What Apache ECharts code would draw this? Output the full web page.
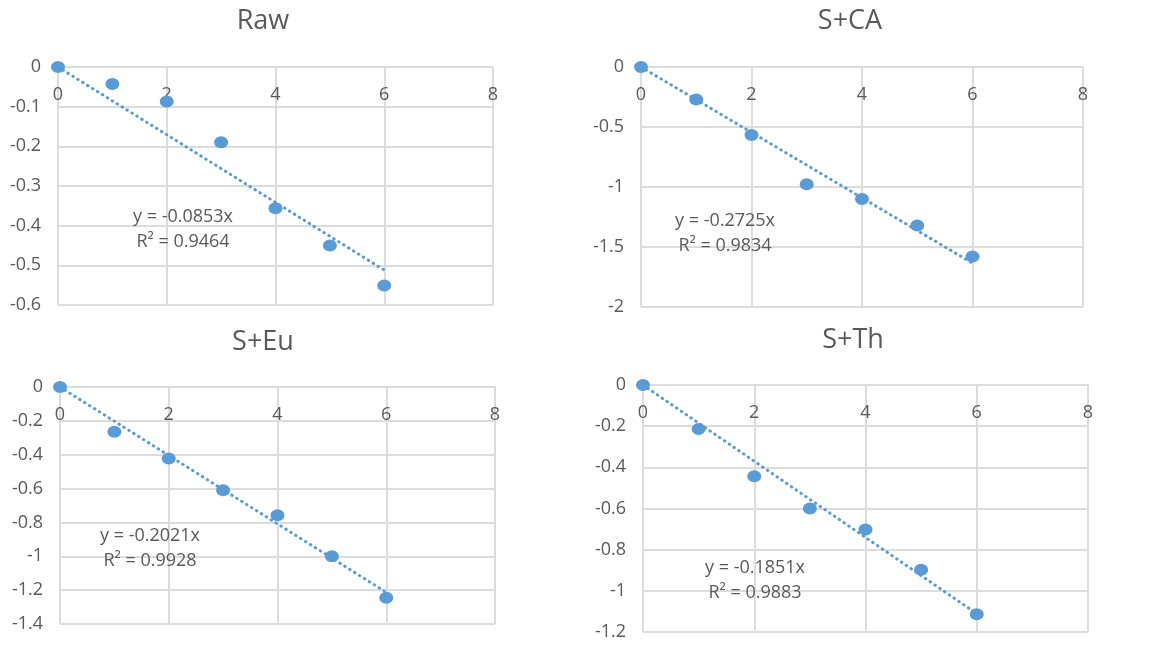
<!DOCTYPE html>
<html>
<head>
<meta charset="utf-8">
<script src="https://cdn.jsdelivr.net/npm/echarts@6/dist/echarts.min.js"></script>
<style>
  html, body { margin: 0; padding: 0; background: #fff; }
  #main { width: 1151px; height: 645px; }
</style>
</head>
<body>
<div id="main"></div>
<script>
// x values (time steps) shared by all panels
const xValues = [0, 1, 2, 3, 4, 5, 6]

const rawValues = [0, -0.043, -0.087, -0.19, -0.356, -0.45, -0.551]
const caValues = [0, -0.27, -0.567, -0.978, -1.1, -1.32, -1.58]
const euValues = [0, -0.265, -0.423, -0.61, -0.757, -1.0, -1.245]
const thValues = [0, -0.214, -0.443, -0.6, -0.702, -0.897, -1.114]

// trendline end points (x = 0 and x = 6)
const rawTrend = [[0, 0], [6, -0.512]]
const caTrend = [[0, 0], [6, -1.635]]
const euTrend = [[0, 0], [6, -1.213]]
const thTrend = [[0, 0], [6, -1.111]]

const titles = ['Raw', 'S+CA', 'S+Eu', 'S+Th']
const equations = ['y = -0.0853x', 'y = -0.2725x', 'y = -0.2021x', 'y = -0.1851x']
const rSquared = ['R² = 0.9464', 'R² = 0.9834', 'R² = 0.9928', 'R² = 0.9883']

// y axis scales
const yMins = [-0.6, -2, -1.4, -1.2]
const yIntervals = [0.1, 0.5, 0.2, 0.2]

const FONT = 'Open Sans'
const GRAY = '#595959'
const GRID = '#dcdcdc'
const BLUE = '#5b9bd5'

const grids = [
  { left: 58, top: 67, width: 435, height: 238 },
  { left: 641, top: 67, width: 442, height: 240 },
  { left: 60, top: 387, width: 435, height: 237 },
  { left: 643, top: 385, width: 445, height: 247 }
]
const titlePos = [[258, 3], [845, 3], [258, 324], [848, 322]]
const eqPos = [[183, 217], [725, 221], [150, 536], [755, 568]]

const allValues = [rawValues, caValues, euValues, thValues]
const allTrends = [rawTrend, caTrend, euTrend, thTrend]

function pairs(ys) {
  return xValues.map((x, i) => [x, ys[i]])
}

const xAxis = grids.map((g, i) => ({
  gridIndex: i,
  type: 'value',
  position: 'top',
  min: 0,
  max: 8,
  interval: 2,
  axisLine: { show: true, lineStyle: { color: GRID, width: 2 } },
  axisTick: { show: false },
  axisLabel: { inside: true, color: GRAY, fontFamily: FONT, fontSize: 18, margin: 19 },
  splitLine: { show: true, lineStyle: { color: GRID, width: 2 } }
}))

const yAxis = grids.map((g, i) => ({
  gridIndex: i,
  type: 'value',
  min: yMins[i],
  max: 0,
  interval: yIntervals[i],
  axisLine: { show: false },
  axisTick: { show: false },
  axisLabel: { color: GRAY, fontFamily: FONT, fontSize: 18, margin: 17 },
  splitLine: { show: true, lineStyle: { color: GRID, width: 2 } }
}))

const series = []
grids.forEach((g, i) => {
  series.push({
    type: 'scatter',
    xAxisIndex: i,
    yAxisIndex: i,
    data: pairs(allValues[i]),
    symbol: 'circle',
    symbolSize: [14, 12],
    itemStyle: { color: BLUE, opacity: 1 },
    z: 2
  })
  series.push({
    type: 'line',
    xAxisIndex: i,
    yAxisIndex: i,
    data: allTrends[i],
    symbol: 'none',
    lineStyle: { color: BLUE, width: 3, type: [0.5, 5.3], cap: 'round' },
    z: 3
  })
})

const chart = echarts.init(document.getElementById('main'))
chart.setOption({
  backgroundColor: '#fff',
  animation: false,
  title: titles.map((t, i) => ({
    text: t,
    left: titlePos[i][0],
    top: titlePos[i][1],
    textAlign: 'center',
    textStyle: { color: GRAY, fontFamily: FONT, fontSize: 27, fontWeight: 'normal' }
  })),
  grid: grids,
  xAxis: xAxis,
  yAxis: yAxis,
  series: series,
  graphic: eqPos.map((p, i) => ({
    type: 'text',
    x: p[0],
    y: p[1] - 13,
    style: {
      text: equations[i] + '\n' + rSquared[i],
      fill: GRAY,
      font: '18px "Open Sans"',
      align: 'center',
      verticalAlign: 'top',
      lineHeight: 25
    },
    z: 10
  }))
})
</script>
</body>
</html>
